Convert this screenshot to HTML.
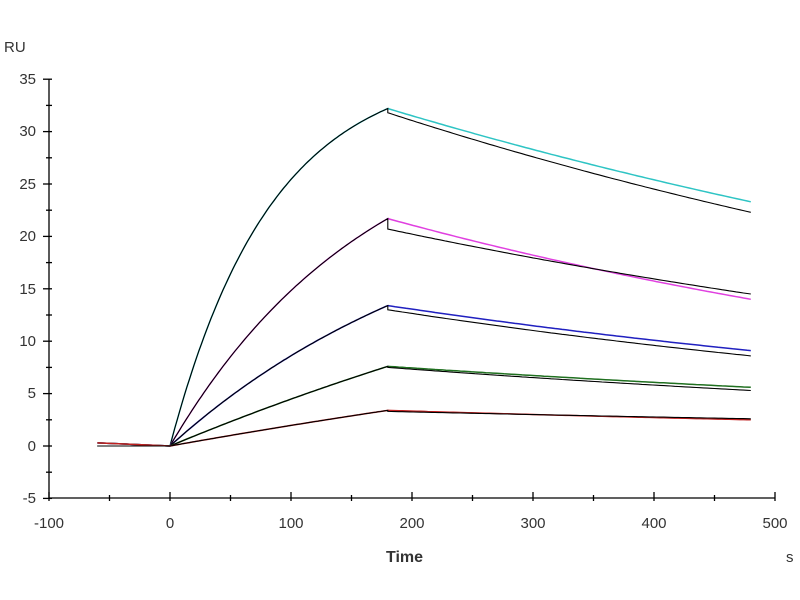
<!DOCTYPE html>
<html><head><meta charset="utf-8"><style>
body{margin:0;background:#fff;}
svg{display:block;font-family:"Liberation Sans",Arial,sans-serif;}
</style></head><body>
<svg id="s" width="800" height="600" viewBox="0 0 800 600">
<rect width="800" height="600" fill="#fff"/>
<g stroke="#000" stroke-width="1.3" fill="none">
<line x1="49" y1="79" x2="49" y2="498"/>
<line x1="49" y1="498" x2="775" y2="498"/>
</g>
<g id="ticks" stroke="#000" stroke-width="1.3"></g>
<g font-size="15" fill="#333" text-anchor="end">
<text x="36" y="84">35</text><text x="36" y="136">30</text><text x="36" y="189">25</text>
<text x="36" y="241">20</text><text x="36" y="294">15</text><text x="36" y="346">10</text>
<text x="36" y="398">5</text><text x="36" y="451">0</text><text x="36" y="503">-5</text>
</g>
<g font-size="15" fill="#333" text-anchor="middle">
<text x="49" y="528">-100</text><text x="170" y="528">0</text><text x="291" y="528">100</text>
<text x="412" y="528">200</text><text x="533" y="528">300</text><text x="654" y="528">400</text>
<text x="775" y="528">500</text>
</g>
<text x="4" y="52" font-size="15" fill="#333">RU</text>
<text x="386" y="562" font-size="16" font-weight="bold" fill="#333">Time</text>
<text x="786" y="562" font-size="15" fill="#333">s</text>
<g id="curves" fill="none" stroke-width="1.5"></g>
</svg>
<script>
var X=t=>170+t*1.21, Y=v=>446-v*10.48;
var tk=document.getElementById('ticks'),h='';
for(var v=-5;v<=35;v+=2.5){var y=Y(v),l=(v%5==0)?6:3;h+='<line x1="'+(49-l)+'" y1="'+y+'" x2="'+(49+(v%5==0?3:3))+'" y2="'+y+'"/>';}
for(var t=-100;t<=500;t+=50){var x=X(t),l=(t%100==0)?6:3;h+='<line x1="'+x+'" y1="'+(498-l)+'" x2="'+x+'" y2="'+(498+3)+'"/>';}
tk.innerHTML=h;
function assoc(R,k,t){return R*(1-Math.exp(-k*t))/(1-Math.exp(-k*180));}
var S=[
 {c:'#2ec4c4',R:32.2,k:0.012,e:23.3,fe:22.3,fs:31.8},
 {c:'#e040e0',R:21.7,k:0.006,e:14.0,fe:14.5,fs:20.7},
 {c:'#2020c0',R:13.4,k:0.004,e:9.1,fe:8.6,fs:13.0},
 {c:'#207020',R:7.6,k:0.0015,e:5.6,fe:5.3,fs:7.5},
 {c:'#c02020',R:3.4,k:0.001,e:2.5,fe:2.6,fs:3.3}];
var out='';
S.forEach(function(s){
 function path(start,end,base){var p='M'+X(-60)+' '+Y(base)+' L'+X(0)+' '+Y(0);
  for(var t=2;t<=180;t+=2)p+=' L'+X(t).toFixed(1)+' '+Y(assoc(s.R,s.k,t)).toFixed(1);
  var kd=Math.log(start/end)/300;
  for(var t=0;t<=300;t+=3)p+=' L'+X(180+t).toFixed(1)+' '+Y(start*Math.exp(-kd*t)).toFixed(1);
  return p;}
 out+='<path d="'+path(s.R,s.e,0.3)+'" stroke="'+s.c+'"/>';
 out+='<path d="'+path(s.fs,s.fe,0)+'" stroke="#000" stroke-width="1.1"/>';
});
document.getElementById('curves').innerHTML=out;
</script>
</body></html>
